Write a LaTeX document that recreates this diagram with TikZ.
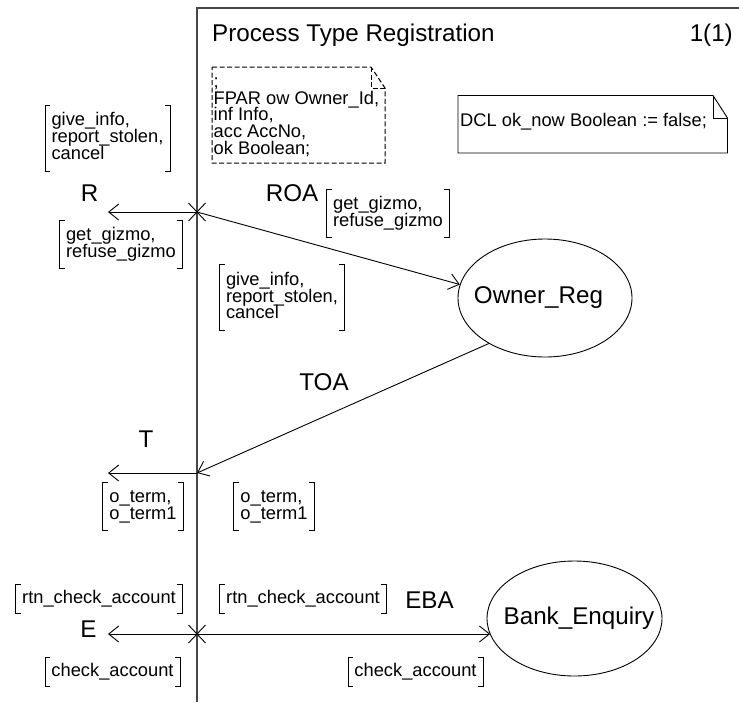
\documentclass[tikz,border=0pt]{standalone}
\usepackage{fontspec}
\setmainfont{Liberation Sans}
\usetikzlibrary{arrows.meta,shapes.geometric}
\newcommand\sigfont{\fontsize{18.3pt}{16.8pt}\selectfont\lineskiplimit=-50pt\relax}
\newcommand\bigfont{\fontsize{24.2pt}{28pt}\selectfont}
\newcommand\sigtop{\rule{0pt}{13.4pt}}
\newcommand\sigbot{\rule[-4.2pt]{0pt}{4.2pt}}
\newcommand\sigbrackets[1]{%
  \draw[brkline] ([xshift=5pt]#1.north west) -- (#1.north west) -- (#1.south west) -- ([xshift=5pt]#1.south west);
  \draw[brkline] ([xshift=-5pt]#1.north east) -- (#1.north east) -- (#1.south east) -- ([xshift=-5pt]#1.south east);}
\begin{document}
\begin{tikzpicture}[x=1pt,y=-1pt,
  frameline/.style={line width=1.1pt, draw=black!72},
  thinline/.style={line width=0.9pt, draw=black},
  brkline/.style={line width=0.9pt, draw=black},
  arr/.style={thinline, -{Straight Barb[length=10pt,width=16pt]}},
  sig/.style={font=\sigfont, align=left, inner xsep=6.5pt, inner ysep=0pt, outer sep=0pt, anchor=center},
  sigi/.style={sig, minimum height=29pt},
  sigii/.style={sig, minimum height=48pt},
  sigiii/.style={sig, minimum height=66pt},
  lbl/.style={font=\bigfont, inner sep=0pt, anchor=base},
  proc/.style={ellipse, draw, line width=0.9pt, font=\bigfont, inner sep=0pt},
  notebox/.style={line width=0.9pt, draw=black},
  dashedbox/.style={line width=1pt, draw=black, dash pattern=on 5pt off 2.5pt},
]
\useasboundingbox (0,0) rectangle (739,702);

% frame
\draw[frameline] (739,8) -- (197,8) -- (197,702);
\node[lbl, anchor=base west] (title) at (212,41) {Process Type Registration};
\node[lbl, anchor=base east] (page) at (733,41) {1(1)};

% FPAR text symbol
\draw[dashedbox] (212,67) -- (371,67) -- (385,88) -- (385,163) -- (212,163) -- cycle;
\draw[dashedbox] (371,67) -- (371,88) -- (385,88);
\node[font=\sigfont, align=left, inner sep=0pt, anchor=north west] (fpar) at (213.5,73.6)
  {\sigtop;\\FPAR ow Owner\_Id,\\inf Info,\\acc AccNo,\\ok Boolean;};

% DCL text symbol
\draw[notebox] (458,95.5) -- (713,95.5) -- (727.5,118) -- (727.5,153) -- (458,153) -- cycle;
\draw[notebox] (713,95.5) -- (713,118) -- (727.5,118);
\node[font=\sigfont, inner sep=0pt, anchor=base west] (dcl) at (460,126.5) {DCL ok\_now Boolean := false;};

% processes
\node[proc, minimum width=174pt, minimum height=118pt] (owner) at (545,298)
  {\makebox[0pt]{\hspace{-13pt}Owner\_Reg}};
\node[proc, minimum width=175pt, minimum height=115pt] (bank) at (574.5,618.5)
  {\makebox[0pt]{\hspace{9pt}Bank\_Enquiry}};

% junctions and free ends
\coordinate (rj) at (197,212);
\coordinate (tj) at (197,473);
\coordinate (ej) at (197,634);
\coordinate (rend) at (108,212);
\coordinate (tend) at (108,473);
\coordinate (eend) at (108,634);

% channels
\draw[arr] (rj) -- (rend);
\draw[arr] (tj) -- (tend);
\draw[arr] (ej) -- (eend);
\draw[arr] (rj) -- (owner.171);
\draw[arr] (owner.219) -- (tj);
\draw[arr] (ej) -- (ej -| bank.191);

% crossing marks
\draw[thinline] ([shift={(-8.5,-9)}]rj) -- ([shift={(8.5,9)}]rj);
\draw[thinline] ([shift={(-8.5,9)}]rj) -- ([shift={(8.5,-9)}]rj);
\draw[thinline] ([shift={(-8.5,-9)}]ej) -- ([shift={(8.5,9)}]ej);
\draw[thinline] ([shift={(-8.5,9)}]ej) -- ([shift={(8.5,-9)}]ej);

% channel names
\node[lbl] (rname) at (89.5,201) {R};
\node[lbl] (roaname) at (292,201) {ROA};
\node[lbl] (tname) at (146,447) {T};
\node[lbl] (toaname) at (324,390) {TOA};
\node[lbl] (ename) at (88.5,637) {E};
\node[lbl] (ebaname) at (429.5,608) {EBA};

% signal lists
\node[sigiii] (sa) at (107.5,138) {\sigtop give\_info,\\report\_stolen,\\cancel\sigbot};
\node[sigii] (sb) at (121,244) {\sigtop get\_gizmo,\\refuse\_gizmo\sigbot};
\node[sigii] (sc) at (388,213) {\sigtop get\_gizmo,\\refuse\_gizmo\sigbot};
\node[sigiii] (sd) at (282,297.5) {\sigtop give\_info,\\report\_stolen,\\cancel\sigbot};
\node[sigii] (se) at (143,506.5) {\sigtop o\_term,\\o\_term1\sigbot};
\node[sigii] (sf) at (274,506.5) {\sigtop o\_term,\\o\_term1\sigbot};
\node[sigi] (sg) at (99,598.5) {\sigtop rtn\_check\_account\sigbot};
\node[sigi] (sh) at (303,598.5) {\sigtop rtn\_check\_account\sigbot};
\node[sigi] (si) at (112.5,671.5) {\sigtop check\_account\sigbot};
\node[sigi] (sj) at (415.5,671.5) {\sigtop check\_account\sigbot};
\sigbrackets{sa}
\sigbrackets{sb}
\sigbrackets{sc}
\sigbrackets{sd}
\sigbrackets{se}
\sigbrackets{sf}
\sigbrackets{sg}
\sigbrackets{sh}
\sigbrackets{si}
\sigbrackets{sj}
\end{tikzpicture}
\end{document}
